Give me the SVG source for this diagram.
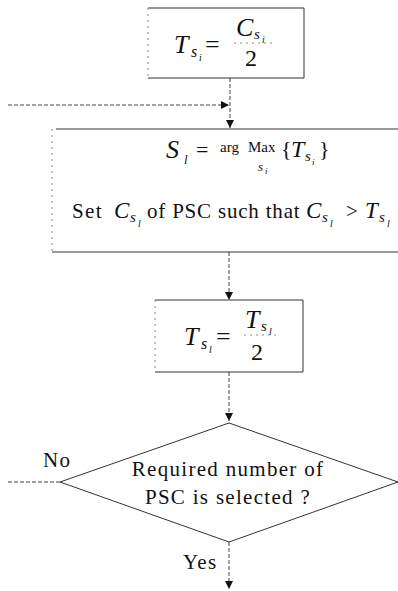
<svg xmlns="http://www.w3.org/2000/svg" width="398" height="591" viewBox="0 0 398 591">
<style>
.box{fill:none;stroke:#333;stroke-width:1}
.faint{fill:none;stroke:#888;stroke-width:1;stroke-dasharray:2 4}
.con{fill:none;stroke:#444;stroke-width:1;stroke-dasharray:4 2}
.t{font-family:"Liberation Serif","Times New Roman",serif;fill:#111}
.i{font-style:italic}
.lab{font-size:21px;letter-spacing:1.3px}
</style>
<defs>
<marker id="ah" viewBox="0 0 10 10" refX="10" refY="5" markerWidth="9" markerHeight="8" markerUnits="userSpaceOnUse" orient="auto">
<path d="M0,0 L10,5 L0,10 Z" fill="#111"/>
</marker>
</defs>
<g id="connectors">
<line class="con" x1="230" y1="78" x2="230" y2="128" marker-end="url(#ah)"/>
<line class="con" x1="8" y1="105" x2="229" y2="105" marker-end="url(#ah)"/>
<line class="con" x1="229" y1="252" x2="229" y2="300" marker-end="url(#ah)"/>
<line class="con" x1="229" y1="372" x2="229" y2="421" marker-end="url(#ah)"/>
<line class="con" x1="60" y1="482" x2="8" y2="482"/>
<line class="con" x1="229" y1="542" x2="229" y2="589" marker-end="url(#ah)"/>
</g>
<g id="box1">
<path class="box" d="M148,8 H304 V78 H148"/>
<line class="faint" x1="148" y1="8" x2="148" y2="78"/>
<text class="t i" x="174" y="53" font-size="26">T</text>
<text class="t i" x="191" y="57" font-size="16">s</text>
<text class="t i" x="199" y="61" font-size="10">i</text>
<text class="t" x="205" y="53" font-size="26">=</text>
<text class="t i" x="236" y="36" font-size="26">C</text>
<text class="t i" x="254" y="39" font-size="15">s</text>
<text class="t i" x="262" y="43" font-size="10">i</text>
<line class="faint" x1="234" y1="43" x2="272" y2="43"/>
<text class="t" x="245" y="66" font-size="24">2</text>
</g>
<g id="box2">
<path class="box" d="M56,129 H398 M52,252 H398"/>
<line class="faint" x1="52" y1="129" x2="52" y2="252"/>
<text class="t i" x="166" y="158" font-size="26">S</text>
<text class="t i" x="184" y="164" font-size="13">l</text>
<text class="t" x="196" y="157" font-size="22">=</text>
<text class="t" x="220" y="152" font-size="15">arg</text>
<text class="t" x="248" y="152" font-size="15">Max</text>
<text class="t i" x="258" y="171" font-size="13">s</text>
<text class="t i" x="265" y="174" font-size="9">i</text>
<text class="t" x="281" y="156" font-size="22">{</text>
<text class="t i" x="291" y="157" font-size="24">T</text>
<text class="t i" x="305" y="161" font-size="15">s</text>
<text class="t i" x="312" y="165" font-size="9">i</text>
<text class="t" x="319" y="156" font-size="22">}</text>
<text class="t" x="72" y="218" font-size="21" letter-spacing="1.4">Set</text>
<text class="t i" x="114" y="218" font-size="23">C</text>
<text class="t i" x="130" y="222" font-size="15">s</text>
<text class="t i" x="138" y="227" font-size="10">l</text>
<text class="t" x="147" y="218" font-size="21" letter-spacing="0.8">of PSC such that</text>
<text class="t i" x="306" y="218" font-size="23">C</text>
<text class="t i" x="322" y="222" font-size="15">s</text>
<text class="t i" x="330" y="227" font-size="10">l</text>
<text class="t" x="346" y="218" font-size="21">&gt;</text>
<text class="t i" x="365" y="218" font-size="23">T</text>
<text class="t i" x="379" y="222" font-size="15">s</text>
<text class="t i" x="387" y="227" font-size="10">l</text>
</g>
<g id="box3">
<path class="box" d="M155,300 H303 V372 H155"/>
<line class="faint" x1="155" y1="300" x2="155" y2="372"/>
<text class="t i" x="184" y="345" font-size="26">T</text>
<text class="t i" x="201" y="349" font-size="16">s</text>
<text class="t i" x="209" y="353" font-size="10">l</text>
<text class="t" x="216" y="345" font-size="26">=</text>
<text class="t i" x="245" y="328" font-size="26">T</text>
<text class="t i" x="261" y="331" font-size="15">s</text>
<text class="t i" x="269" y="335" font-size="10">l</text>
<line class="faint" x1="244" y1="335" x2="278" y2="335"/>
<text class="t" x="251" y="360" font-size="24">2</text>
</g>
<g id="decision">
<polygon class="box" points="229,423 398,482 229,542 60,482"/>
<text class="t lab" x="228" y="476" text-anchor="middle">Required number of</text>
<text class="t lab" x="228" y="504" text-anchor="middle">PSC is selected ?</text>
</g>
<g id="labels">
<text class="t lab" x="43" y="467">No</text>
<text class="t lab" x="183" y="569">Yes</text>
</g>
</svg>
